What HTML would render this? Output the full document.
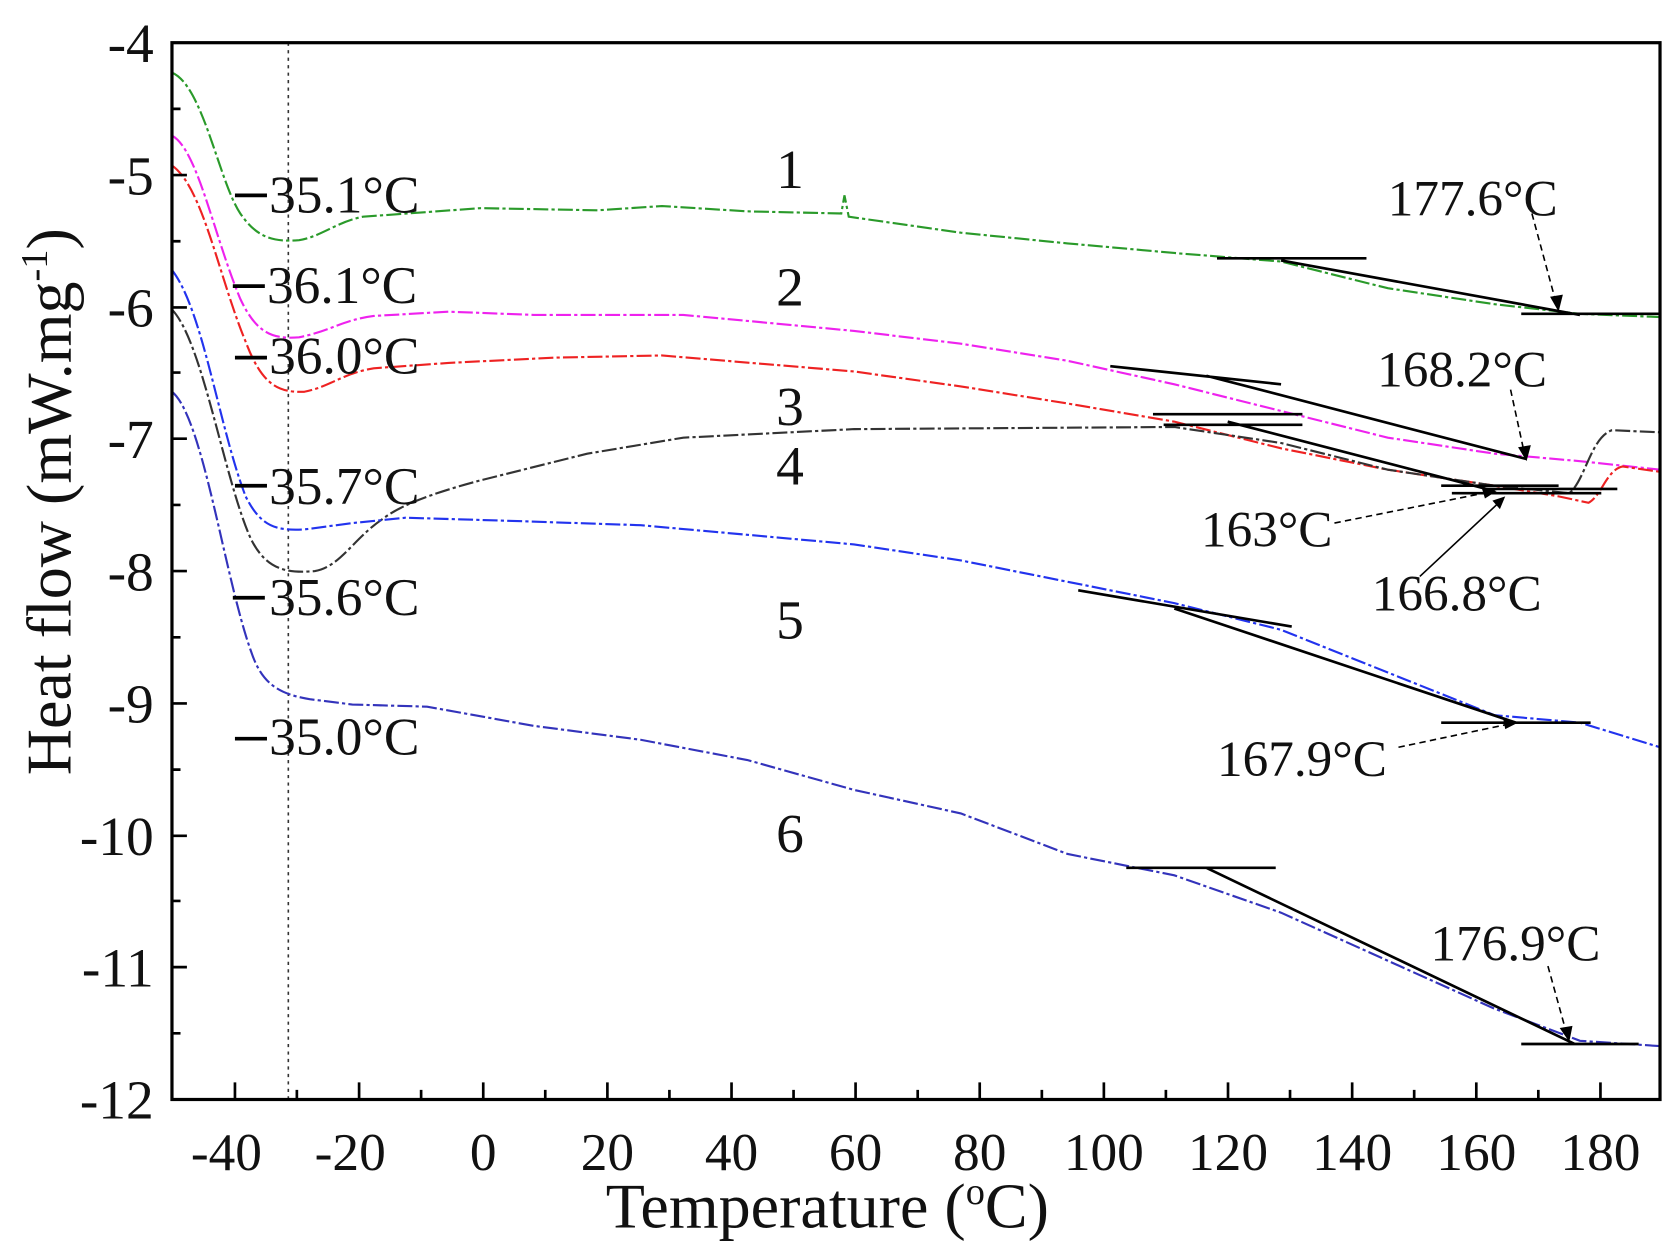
<!DOCTYPE html>
<html><head><meta charset="utf-8"><style>html,body{margin:0;padding:0;background:#fff}svg{display:block}</style></head><body>
<svg width="1674" height="1250" viewBox="0 0 1568 1171" xmlns="http://www.w3.org/2000/svg" font-family="Liberation Serif, serif">
<rect width="1568" height="1171" fill="#fff"/>
<line x1="270" y1="40" x2="270" y2="1030" stroke="#333" stroke-width="1.5" stroke-dasharray="3,4"/>
<g fill="none" stroke-width="2">
<path stroke="#2a9a2a" stroke-dasharray="14,3,3,3" d="M161,68 C190,80 205,170 225,200 C240,222 255,227 280,225 C300,222 315,208 340,203 L450,195 L560,197 L620,193 L700,198 L788,200 L791,183 L795,203 L900,218 L1000,228 L1100,237 L1200,245 L1300,270 L1400,285 L1480,294 L1555,297"/>
<path stroke="#ee22ee" stroke-dasharray="14,3,3,3" d="M161,127 C185,140 200,220 225,280 C240,312 255,318 280,316 C310,310 320,300 350,296 L420,292 L500,295 L640,295 L800,310 L900,322 L1000,338 L1100,360 L1200,385 L1300,410 L1400,425 L1480,432 L1555,440"/>
<path stroke="#ee2222" stroke-dasharray="14,3,3,3" d="M161,155 C190,175 205,260 230,320 C245,360 260,368 285,367 C310,362 320,350 350,345 L420,340 L520,335 L620,333 L800,348 L900,362 L1000,378 L1100,395 L1200,420 L1300,440 L1400,455 L1460,465 L1488,471 C1500,465 1505,440 1520,437 L1555,442"/>
<path stroke="#333" stroke-dasharray="14,3,3,3" d="M161,290 C190,320 210,450 235,505 C250,535 270,537 295,535 C320,530 330,505 360,485 C380,470 420,458 450,450 L550,425 L640,410 L800,402 L1100,400 L1200,415 L1300,440 L1400,455 L1470,462 C1485,450 1490,410 1510,403 L1555,405"/>
<path stroke="#2233ee" stroke-dasharray="14,3,3,3" d="M161,253 C190,290 205,400 230,465 C245,495 260,497 285,496 L330,490 L380,485 L480,488 L600,492 L800,510 L900,525 L1000,545 L1100,565 L1200,590 L1300,630 L1400,670 L1480,677 L1555,700"/>
<path stroke="#3333bb" stroke-dasharray="14,3,3,3" d="M161,367 C190,390 210,540 235,610 C245,640 260,650 290,655 L330,660 L400,662 L500,680 L600,693 L700,712 L800,740 L900,762 L1000,800 L1100,820 L1200,855 L1300,900 L1400,945 L1480,975 L1555,980"/>
</g>
<g stroke="#000" stroke-width="2.5" fill="none">
<path d="M1140,242H1280M1200,244L1480,295M1425,294H1555"/>
<path d="M1040,343L1200,360M1130,352L1430,430M1390,458H1515"/>
<path d="M1080,388H1220M1090,398H1220M1150,395L1400,460M1350,455H1460M1360,462H1500"/>
<path d="M1010,553L1210,587M1100,570L1420,677M1350,677H1490"/>
<path d="M1055,813H1195M1130,813L1475,978M1425,978H1535"/>
<path d="M220,183h30M218,268h30M220,335h30M220,455h30M218,560h30M220,692h30" stroke-width="3.5"/>
</g>
<g stroke="#000" stroke-width="1.5" fill="none" stroke-dasharray="6,4">
<path d="M1435,200L1458,285M1415,365L1428,425M1250,490L1395,461M1310,700L1415,678M1450,905L1468,970"/>
</g>
<path d="M1330,540L1405,470" stroke="#000" stroke-width="1.5"/>
<g fill="#000">
<path d="M1460,292l-8,-14l12,-2z"/><path d="M1430,432l-8,-13l12,-2z"/><path d="M1402,460l-14,-3l3,10z"/><path d="M1410,465l-5,12l-7,-8z"/><path d="M1422,677l-14,-4l2,10z"/><path d="M1470,976l-9,-13l12,-2z"/>
</g>
<rect x="161" y="40" width="1394" height="990" fill="none" stroke="#000" stroke-width="3"/>
<g stroke="#000" stroke-width="2.5">
<path d="M220,1030v-16M336.3,1030v-16M452.6,1030v-16M568.9,1030v-16M685.2,1030v-16M801.4,1030v-16M917.7,1030v-16M1034,1030v-16M1150.3,1030v-16M1266.6,1030v-16M1382.9,1030v-16M1499.2,1030v-16"/>
<path d="M278,1030v-9M394.4,1030v-9M510.7,1030v-9M627,1030v-9M743.3,1030v-9M859.6,1030v-9M975.9,1030v-9M1092.1,1030v-9M1208.4,1030v-9M1324.7,1030v-9M1441,1030v-9"/>
<path d="M161,164h14M161,288h14M161,411h14M161,535h14M161,659h14M161,783h14M161,906h14"/>
<path d="M161,102h8M161,226h8M161,349h8M161,473h8M161,597h8M161,721h8M161,844h8M161,968h8"/>
</g>
<g font-size="52" text-anchor="end" fill="#111">
<text x="144" y="58">-4</text><text x="144" y="182">-5</text><text x="144" y="306">-6</text><text x="144" y="429">-7</text><text x="144" y="553">-8</text><text x="144" y="677">-9</text><text x="144" y="801">-10</text><text x="144" y="924">-11</text><text x="144" y="1048">-12</text>
</g>
<g font-size="50" text-anchor="middle" fill="#111">
<text x="212" y="1096">-40</text><text x="328" y="1096">-20</text><text x="452.6" y="1096">0</text><text x="568.9" y="1096">20</text><text x="685.2" y="1096">40</text><text x="801.4" y="1096">60</text><text x="917.7" y="1096">80</text><text x="1034" y="1096">100</text><text x="1150.3" y="1096">120</text><text x="1266.6" y="1096">140</text><text x="1382.9" y="1096">160</text><text x="1499.2" y="1096">180</text>
<text x="775" y="1150" font-size="60">Temperature (<tspan font-size="36" dy="-22">o</tspan><tspan dy="22">C)</tspan></text>
<text transform="translate(66,470) rotate(-90)" font-size="60">Heat flow (mW.mg<tspan font-size="36" dy="-22">-1</tspan><tspan dy="22">)</tspan></text>
</g>
<g font-size="52" text-anchor="middle" fill="#111">
<text x="740" y="176">1</text><text x="740" y="286">2</text><text x="740" y="398">3</text><text x="740" y="454">4</text><text x="740" y="598">5</text><text x="740" y="798">6</text>
</g>
<g font-size="50" fill="#111">
<text x="252" y="199">35.1°C</text><text x="250" y="284">36.1°C</text><text x="252" y="350">36.0°C</text><text x="252" y="472">35.7°C</text><text x="252" y="576">35.6°C</text><text x="252" y="707">35.0°C</text>
</g>
<g font-size="48" fill="#111">
<text x="1300" y="202">177.6°C</text><text x="1290" y="362">168.2°C</text><text x="1125" y="512">163°C</text><text x="1285" y="572">166.8°C</text><text x="1140" y="727">167.9°C</text><text x="1340" y="900">176.9°C</text>
</g>
</svg>
</body></html>
